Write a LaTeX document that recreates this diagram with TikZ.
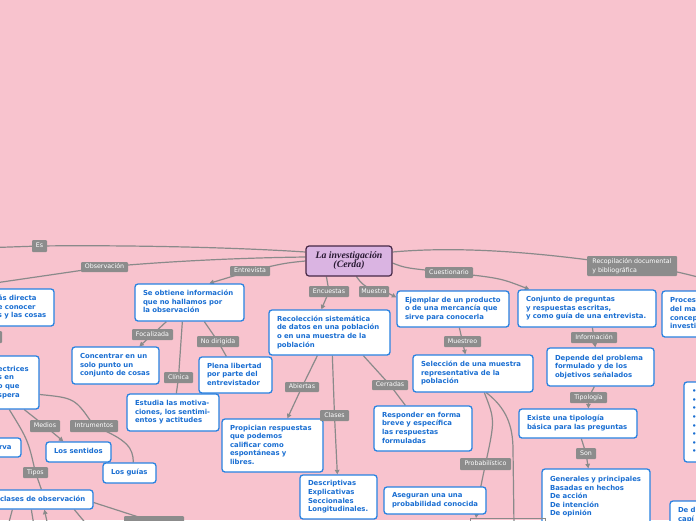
\documentclass[tikz,border=0pt]{standalone}
\usepackage{fontspec}
\newfontfamily\dvs{DejaVu Sans}
\newfontfamily\libser{Liberation Serif}
\usetikzlibrary{arrows.meta,calc}
\definecolor{bgpink}{RGB}{248,195,206}
\definecolor{boxblue}{RGB}{40,130,225}
\definecolor{txtblue}{RGB}{25,110,210}
\definecolor{labgray}{RGB}{140,140,140}
\definecolor{conngray}{RGB}{138,138,138}
\definecolor{rootfill}{RGB}{218,180,226}
\definecolor{rootdraw}{RGB}{70,40,70}
\definecolor{roottxt}{RGB}{40,25,50}
\pgfdeclarelayer{bg}
\pgfsetlayers{bg,main}
\tikzset{
  box/.style={draw=boxblue, fill=white, line width=1.3pt, rounded corners=3pt,
    inner xsep=8pt, inner ysep=1pt, text=txtblue,
    font=\dvs\bfseries\fontsize{6.9}{8.6}\selectfont},
  lab/.style={fill=labgray, text=white, inner sep=0pt, rounded corners=1pt,
    font=\dvs\fontsize{6.3}{8.6}\selectfont},
  rootbox/.style={draw=rootdraw, fill=rootfill, line width=1.2pt, rounded corners=3pt,
    inner sep=0pt, text=roottxt, font=\libser\bfseries\itshape\fontsize{9.8}{10}\selectfont},
  conn/.style={draw=conngray, line width=1.2pt},
  arr/.style={conn, -{Triangle[length=4.5pt,width=4.5pt]}},
  edgebox/.style={draw=conngray, line width=1pt, inner sep=0pt}
}
\newcommand\boxnode[6]{%
  \pgfmathsetmacro\bxw{#4-(#2)}%
  \pgfmathsetmacro\bxh{#5-(#3)}%
  \pgfmathsetmacro\bxt{#4-(#2)-16}%
  \pgfmathsetmacro\bxx{((#2)+(#4))/2}%
  \pgfmathsetmacro\bxy{((#3)+(#5))/2}%
  \node[box, minimum width=\bxw pt, minimum height=\bxh pt, text width=\bxt pt] (#1) at (\bxx,\bxy) {\begin{tabular}{@{}l@{}}#6\end{tabular}};}
\newcommand\labnode[6]{%
  \pgfmathsetmacro\bxw{#4-(#2)}%
  \pgfmathsetmacro\bxh{#5-(#3)}%
  \pgfmathsetmacro\bxx{((#2)+(#4))/2}%
  \pgfmathsetmacro\bxy{((#3)+(#5))/2}%
  \node[lab, minimum width=\bxw pt, minimum height=\bxh pt] (#1) at (\bxx,\bxy) {\begin{tabular}{@{}l@{}}#6\end{tabular}};}
\begin{document}
\begin{tikzpicture}[x=1pt,y=-1pt]
\useasboundingbox (0,0) rectangle (696,520);
\begin{pgfonlayer}{bg}
\fill[bgpink] (0,0) rectangle (696,520);
\end{pgfonlayer}
\clip (0,0) rectangle (696,520);

% root
\node[rootbox, minimum width=86pt, minimum height=30pt] (root) at (349,261)
  {\begin{tabular}{@{}c@{}}La investigación\\[-1pt](Cerda)\end{tabular}};

% boxes
\boxnode{A}{-10}{289}{54}{326}{ás directa\\e conocer\\s y las cosas}
\boxnode{B}{-10}{356}{39}{409}{ectrices\\s en\\o que\\spera}
\boxnode{C}{-9}{438}{21}{457}{rva}
\boxnode{D}{46}{442}{111}{462}{Los sentidos}
\boxnode{E}{103}{463}{156}{483}{Los guías}
\boxnode{F}{-8}{490}{93}{509}{clases de observación}
\boxnode{G}{135}{284}{244}{321}{Se obtiene información\\que no hallamos por\\la observación}
\boxnode{H}{72}{347}{159}{384}{Concentrar en un\\solo punto un\\conjunto de cosas}
\boxnode{I}{199}{357}{272}{393}{Plena libertad\\por parte del\\entrevistador}
\boxnode{J}{127}{394}{219}{431}{Estudia las motiva-\\ciones, los sentimi-\\entos y actitudes}
\boxnode{K}{269}{310}{390}{355}{Recolección sistemática\\de datos en una población\\o en una muestra de la\\población}
\boxnode{L}{222}{419}{323}{472}{Propician respuestas\\que podemos\\calificar como\\espontáneas y\\libres.}
\boxnode{M}{300}{475}{377}{519}{Descriptivas\\Explicativas\\Seccionales\\Longitudinales.}
\boxnode{N}{374}{406}{472}{451}{Responder en forma\\breve y específica\\las respuestas\\formuladas}
\boxnode{O}{384}{487}{486}{514}{Aseguran una una\\probabilidad conocida}
\boxnode{P}{397}{291}{509}{327}{Ejemplar de un producto\\o de una mercancía que\\sirve para conocerla}
\boxnode{Q}{413}{355}{533}{392}{Selección de una muestra\\representativa de la\\población}
\boxnode{R}{518}{290}{656}{327}{Conjunto de preguntas\\y respuestas escritas,\\y como guía de una entrevista.}
\boxnode{S}{547}{348}{654}{386}{Depende del problema\\formulado y de los\\objetivos señalados}
\boxnode{T}{519}{409}{637}{438}{Existe una tipología\\básica para las preguntas}
\boxnode{U}{542}{469}{650}{525}{Generales y principales\\Basadas en hechos\\De acción\\De intención\\De opinión}
\boxnode{V}{662}{291}{730}{337}{Proces\\del ma\\concep\\investi}
\boxnode{W}{684}{382}{730}{462}{•\\•\\•\\•\\•\\•\\•\\•}
\boxnode{X}{670}{501}{730}{529}{De d\\capí}
\node[edgebox, minimum width=75pt, minimum height=20pt] (BB) at (508,528.5) {};

% labels
\labnode{lEs}{32}{240}{47}{252}{Es}
\labnode{lObs}{81}{262}{128}{272}{Observación}
\labnode{lEnt}{230}{266}{270}{276}{Entrevista}
\labnode{lEnc}{309}{286}{349}{297}{Encuestas}
\labnode{lMue}{359}{286}{389}{297}{Muestra}
\labnode{lCue}{425}{267}{473}{278}{Cuestionario}
\labnode{lRec}{587}{256}{677}{276}{Recopilación documental\\y bibliográfica}
\labnode{lFoc}{132}{329}{173}{340}{Focalizada}
\labnode{lNod}{197}{336}{239}{347}{No dirigida}
\labnode{lCli}{164}{372}{193}{383}{Clínica}
\labnode{lAbi}{285}{382}{319}{392}{Abiertas}
\labnode{lCla}{320}{410}{349}{421}{Clases}
\labnode{lCer}{372}{380}{408}{390}{Cerradas}
\labnode{lMst}{444}{336}{481}{347}{Muestreo}
\labnode{lPro}{460}{458}{511}{470}{Probabilístico}
\labnode{lInf}{571}{332}{617}{343}{Información}
\labnode{lTip}{570}{392}{607}{403}{Tipología}
\labnode{lSon}{576}{448}{596}{459}{Son}
\labnode{lMed}{30}{420}{60}{432}{Medios}
\labnode{lInt}{70}{420}{118}{432}{Intrumentos}
\labnode{lTps}{23}{467}{48}{478}{Tipos}
\labnode{lBot}{124}{516}{184}{528}{}
\labnode{lLft}{-20}{331}{2}{343}{}

% free ends
\coordinate (oEs) at (-5,247.5);
\coordinate (oObs) at (-5,283);
\coordinate (oRec) at (702,278);
\coordinate (oQ) at (514,526);
\coordinate (oF1) at (8,526);
\coordinate (oF2) at (34,526);
\coordinate (oF3) at (48,526);
\coordinate (oF4) at (88,526);

\begin{pgfonlayer}{bg}
\begin{scope}
\clip (0,0) rectangle (696,520);
\draw[conn] ($(root.west)+(0,-9)$) .. controls (230,247) and (120,245) .. (lEs.center) -- (oEs);
\draw[conn] ($(root.west)+(0,-4)$) .. controls (230,258) and (160,262) .. (lObs.center) -- (oObs);
\draw[arr] (root.west) .. controls (285,263) .. (lEnt.center) -- ($(G.north west)+(75,0)$);
\draw[arr] ($(root.south west)+(21,0)$) -- (lEnc.center) -- ($(K.north west)+(53,0)$);
\draw[arr] ($(root.south west)+(51,0)$) .. controls (362,284) .. (lMue.center) .. controls (386,292) .. ($(P.north west)+(0,7)$);
\draw[arr] ($(root.east)+(0,2)$) .. controls (405,268) .. (lCue.center) .. controls (500,278) .. ($(R.north west)+(12,0)$);
\draw[conn] ($(root.east)+(0,-9)$) .. controls (460,246) and (540,252) .. (lRec.center) .. controls (670,270) .. (oRec);
% G
\draw[arr] ($(G.south west)+(32,0)$) -- (lFoc.center) -- ($(H.north west)+(68,0)$);
\draw[conn] ($(G.south west)+(70,0)$) -- (lNod.center) -- ($(I.north west)+(28,0)$);
\draw[conn] ($(G.south west)+(48,0)$) -- (lCli.center) -- ($(J.north west)+(50,0)$);
% K
\draw[arr] ($(K.south west)+(49,0)$) -- (lAbi.center) -- ($(L.north west)+(66,0)$);
\draw[arr] ($(K.south west)+(64,0)$) -- (lCla.center) -- ($(M.north west)+(38,0)$);
\draw[conn] ($(K.south west)+(95,0)$) -- (lCer.center) -- ($(N.north west)+(32,0)$);
% P, Q
\draw[arr] ($(P.south west)+(63,0)$) -- (lMst.center) -- ($(Q.north west)+(53,0)$);
\draw[arr] ($(Q.south west)+(72,0)$) .. controls (495,420) .. (lPro.center) .. controls (480,490) .. ($(BB.north west)+(6,0)$);
\draw[conn] ($(Q.south west)+(74,0)$) .. controls (506,408) and (513,425) .. (513,450) -- (oQ);
% R chain
\draw[arr] ($(R.south west)+(75,0)$) -- (lInf.center) -- ($(S.north west)+(49,0)$);
\draw[arr] ($(S.south west)+(48,0)$) -- (lTip.center) -- ($(T.north west)+(70,0)$);
\draw[arr] ($(T.south west)+(63,0)$) -- (lSon.center) -- ($(U.north west)+(47,0)$);
% left side
\draw[conn] ($(A.south west)+(5,0)$) -- (lLft.center) -- ($(B.north west)+(5,0)$);
\draw[arr] ($(B.south west)+(35,0)$) -- (lMed.center) -- ($(D.north west)+(18,0)$);
\draw[conn] ($(B.east)+(0,12)$) .. controls (75,398) .. (lInt.center) .. controls (128,440) and (133,448) .. ($(E.north west)+(31,0)$);
\draw[conn] ($(B.south west)+(20,0)$) .. controls (28,440) .. (lTps.center) -- ($(F.north west)+(50,0)$);
\draw[conn] ($(F.south west)+(21,0)$) -- (oF1);
\draw[conn] ($(F.south west)+(40,0)$) -- (oF2);
\draw[arr] (oF3) -- ($(F.south west)+(53,0)$);
\draw[conn] ($(F.south west)+(83,0)$) -- (oF4);
\draw[conn] ($(F.east)+(0,3)$) -- (lBot.center);
\end{scope}
\end{pgfonlayer}
\end{tikzpicture}
\end{document}
